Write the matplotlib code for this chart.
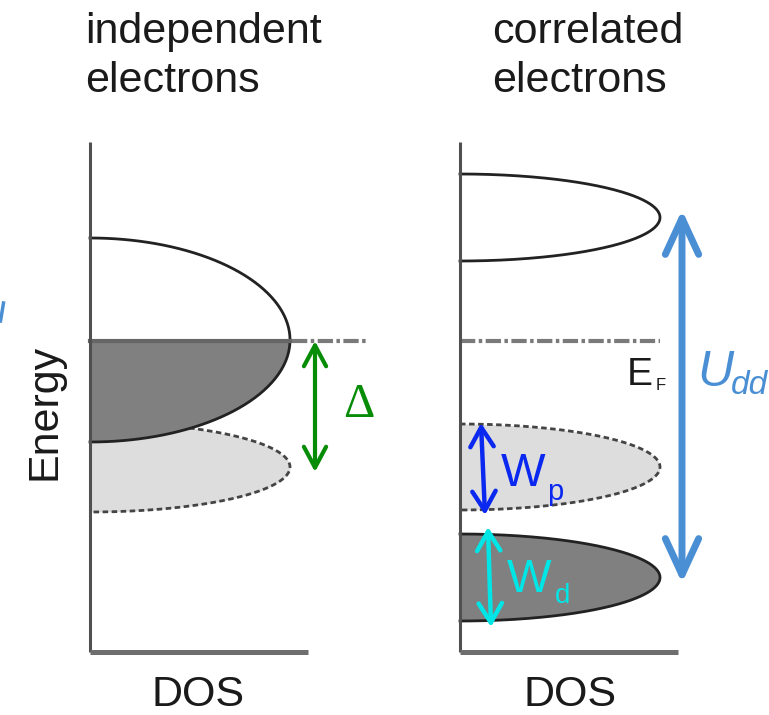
import numpy as np
import matplotlib.pyplot as plt

plt.rcParams['lines.scale_dashes'] = False

# schematic coordinates (pixel-like units, energy grows upward = smaller y)
axis_x = [90, 460]            # DOS axis of each panel
axis_top, axis_bottom = 142, 652
axis_len = 218
band_width = 200              # max DOS of every band
fermi_y = 341

# left panel: independent electrons
left_d_center, left_d_half = 340, 102     # half filled d band
left_p_center, left_p_half = 467, 45      # p band
# right panel: correlated electrons
uhb_center, uhb_half = 217.5, 43.5        # upper Hubbard band
right_p_center, right_p_half = 467, 43    # p band
lhb_center, lhb_half = 577.5, 43.5        # lower Hubbard band

dark = '#808080'
light = '#dddddd'
edge = '#222222'

fig = plt.figure(figsize=(7.69, 7.15), dpi=100)
ax = fig.add_axes([0, 0, 1, 1])
ax.set_xlim(0, 769)
ax.set_ylim(715, 0)
ax.axis('off')


def half_ellipse(x0, yc, b, y_from=None, y_to=None):
    t = np.linspace(-np.pi / 2, np.pi / 2, 300)
    x = x0 + band_width * np.cos(t)
    y = yc + b * np.sin(t)
    if y_from is not None:
        m = (y >= y_from) & (y <= y_to)
        x, y = x[m], y[m]
    return x, y


def band(x0, yc, b, fill, dashed=False, z=2):
    x, y = half_ellipse(x0, yc, b)
    ax.fill_betweenx(y, x0, x, color=fill, lw=0, zorder=z)
    if dashed:
        ax.plot(x, y, color='#444444', lw=2, dashes=(4, 2.5), zorder=z + 0.5)
    else:
        ax.plot(x, y, color=edge, lw=2, zorder=z + 0.5)


# left panel bands
band(axis_x[0], left_p_center, left_p_half, light, dashed=True, z=1)
x, y = half_ellipse(axis_x[0], left_d_center, left_d_half)
ax.fill_betweenx(y, axis_x[0], x, color='white', lw=0, zorder=3)
xl, yl = half_ellipse(axis_x[0], left_d_center, left_d_half, fermi_y, 999)
ax.fill_betweenx(yl, axis_x[0], xl, color=dark, lw=0, zorder=3.2)
ax.plot(x, y, color=edge, lw=2, zorder=3.5)
ax.plot([axis_x[0], axis_x[0] + band_width], [fermi_y, fermi_y], color='#666666', lw=3, zorder=3.6)
ax.plot([axis_x[0] + band_width + 2, 367], [fermi_y, fermi_y], color='#7a7a7a', lw=3,
        dashes=(11, 2.5, 2.5, 2.5), zorder=3)

# right panel bands
band(axis_x[1], uhb_center, uhb_half, 'white')
band(axis_x[1], right_p_center, right_p_half, light, dashed=True)
band(axis_x[1], lhb_center, lhb_half, dark)
ax.plot([axis_x[1], axis_x[1] + band_width], [fermi_y, fermi_y], color='#7a7a7a', lw=3,
        dashes=(11, 2.5, 2.5, 2.5), zorder=3)

# axes of the panels
for x0 in axis_x:
    ax.plot([x0, x0], [axis_top, axis_bottom], color='#505050', lw=2.2, zorder=5,
            solid_capstyle='butt')
    ax.plot([x0, x0 + axis_len], [axis_bottom, axis_bottom], color='#6e6e6e', lw=3.6, zorder=5,
            solid_capstyle='butt')


def arrow(p0, p1, color, lw, hl, hw):
    ax.annotate('', xy=p1, xytext=p0,
                arrowprops=dict(arrowstyle='<->,head_length=%s,head_width=%s' % (hl, hw),
                                color=color, lw=lw, shrinkA=0, shrinkB=0, mutation_scale=20),
                zorder=6)


arrow((315, fermi_y), (315, 472), '#078c07', 3, 0.75, 0.4)
arrow((682, 210), (682, 583), '#4a8fd4', 5, 1.3, 0.6)
arrow((481, 423), (485, 515), '#0a28f0', 3.2, 0.7, 0.42)
arrow((488, 527), (491, 627), '#00e6e6', 3.2, 0.7, 0.42)

# texts
sans = 'Liberation Sans'
tk = dict(family=sans, color='#1a1a1a', va='baseline')
ax.text(85, 43, 'independent', fontsize=31, **tk)
ax.text(85, 92, 'electrons', fontsize=31, **tk)
ax.text(492, 43, 'correlated', fontsize=31, **tk)
ax.text(492, 92, 'electrons', fontsize=31, **tk)
ax.text(198, 706, 'DOS', fontsize=31, ha='center', **tk)
ax.text(570, 706, 'DOS', fontsize=31, ha='center', **tk)
ax.text(45, 412, 'Energy', fontsize=31, family=sans, color='#1a1a1a', rotation=90,
        ha='center', va='center')

ax.text(359, 405, '\u0394', fontsize=35, family='Liberation Serif', color='#078c07',
        ha='center', va='center')
ax.text(627, 385, 'E', fontsize=28, **tk)
ax.text(656, 390, 'F', fontsize=12, **tk)
ax.text(697, 386, 'U', fontsize=36, family=sans, style='italic', color='#4a8fd4', va='baseline')
ax.text(731, 394, 'dd', fontsize=24, family=sans, style='italic', color='#4a8fd4', va='baseline')
ax.text(501, 486, 'W', fontsize=34, family=sans, color='#0a28f0', va='baseline')
ax.text(547, 500, 'p', fontsize=21, family=sans, color='#0a28f0', va='baseline')
ax.text(507, 592, 'W', fontsize=34, family=sans, color='#00e6e6', va='baseline')
ax.text(555, 603, 'd', fontsize=20, family=sans, color='#00e6e6', va='baseline')

# cropped fragment at the left edge
ax.plot([3.5, 0.5], [303, 321], color='#4a8fd4', lw=2.5)

fig.savefig('out.png', dpi=100)
